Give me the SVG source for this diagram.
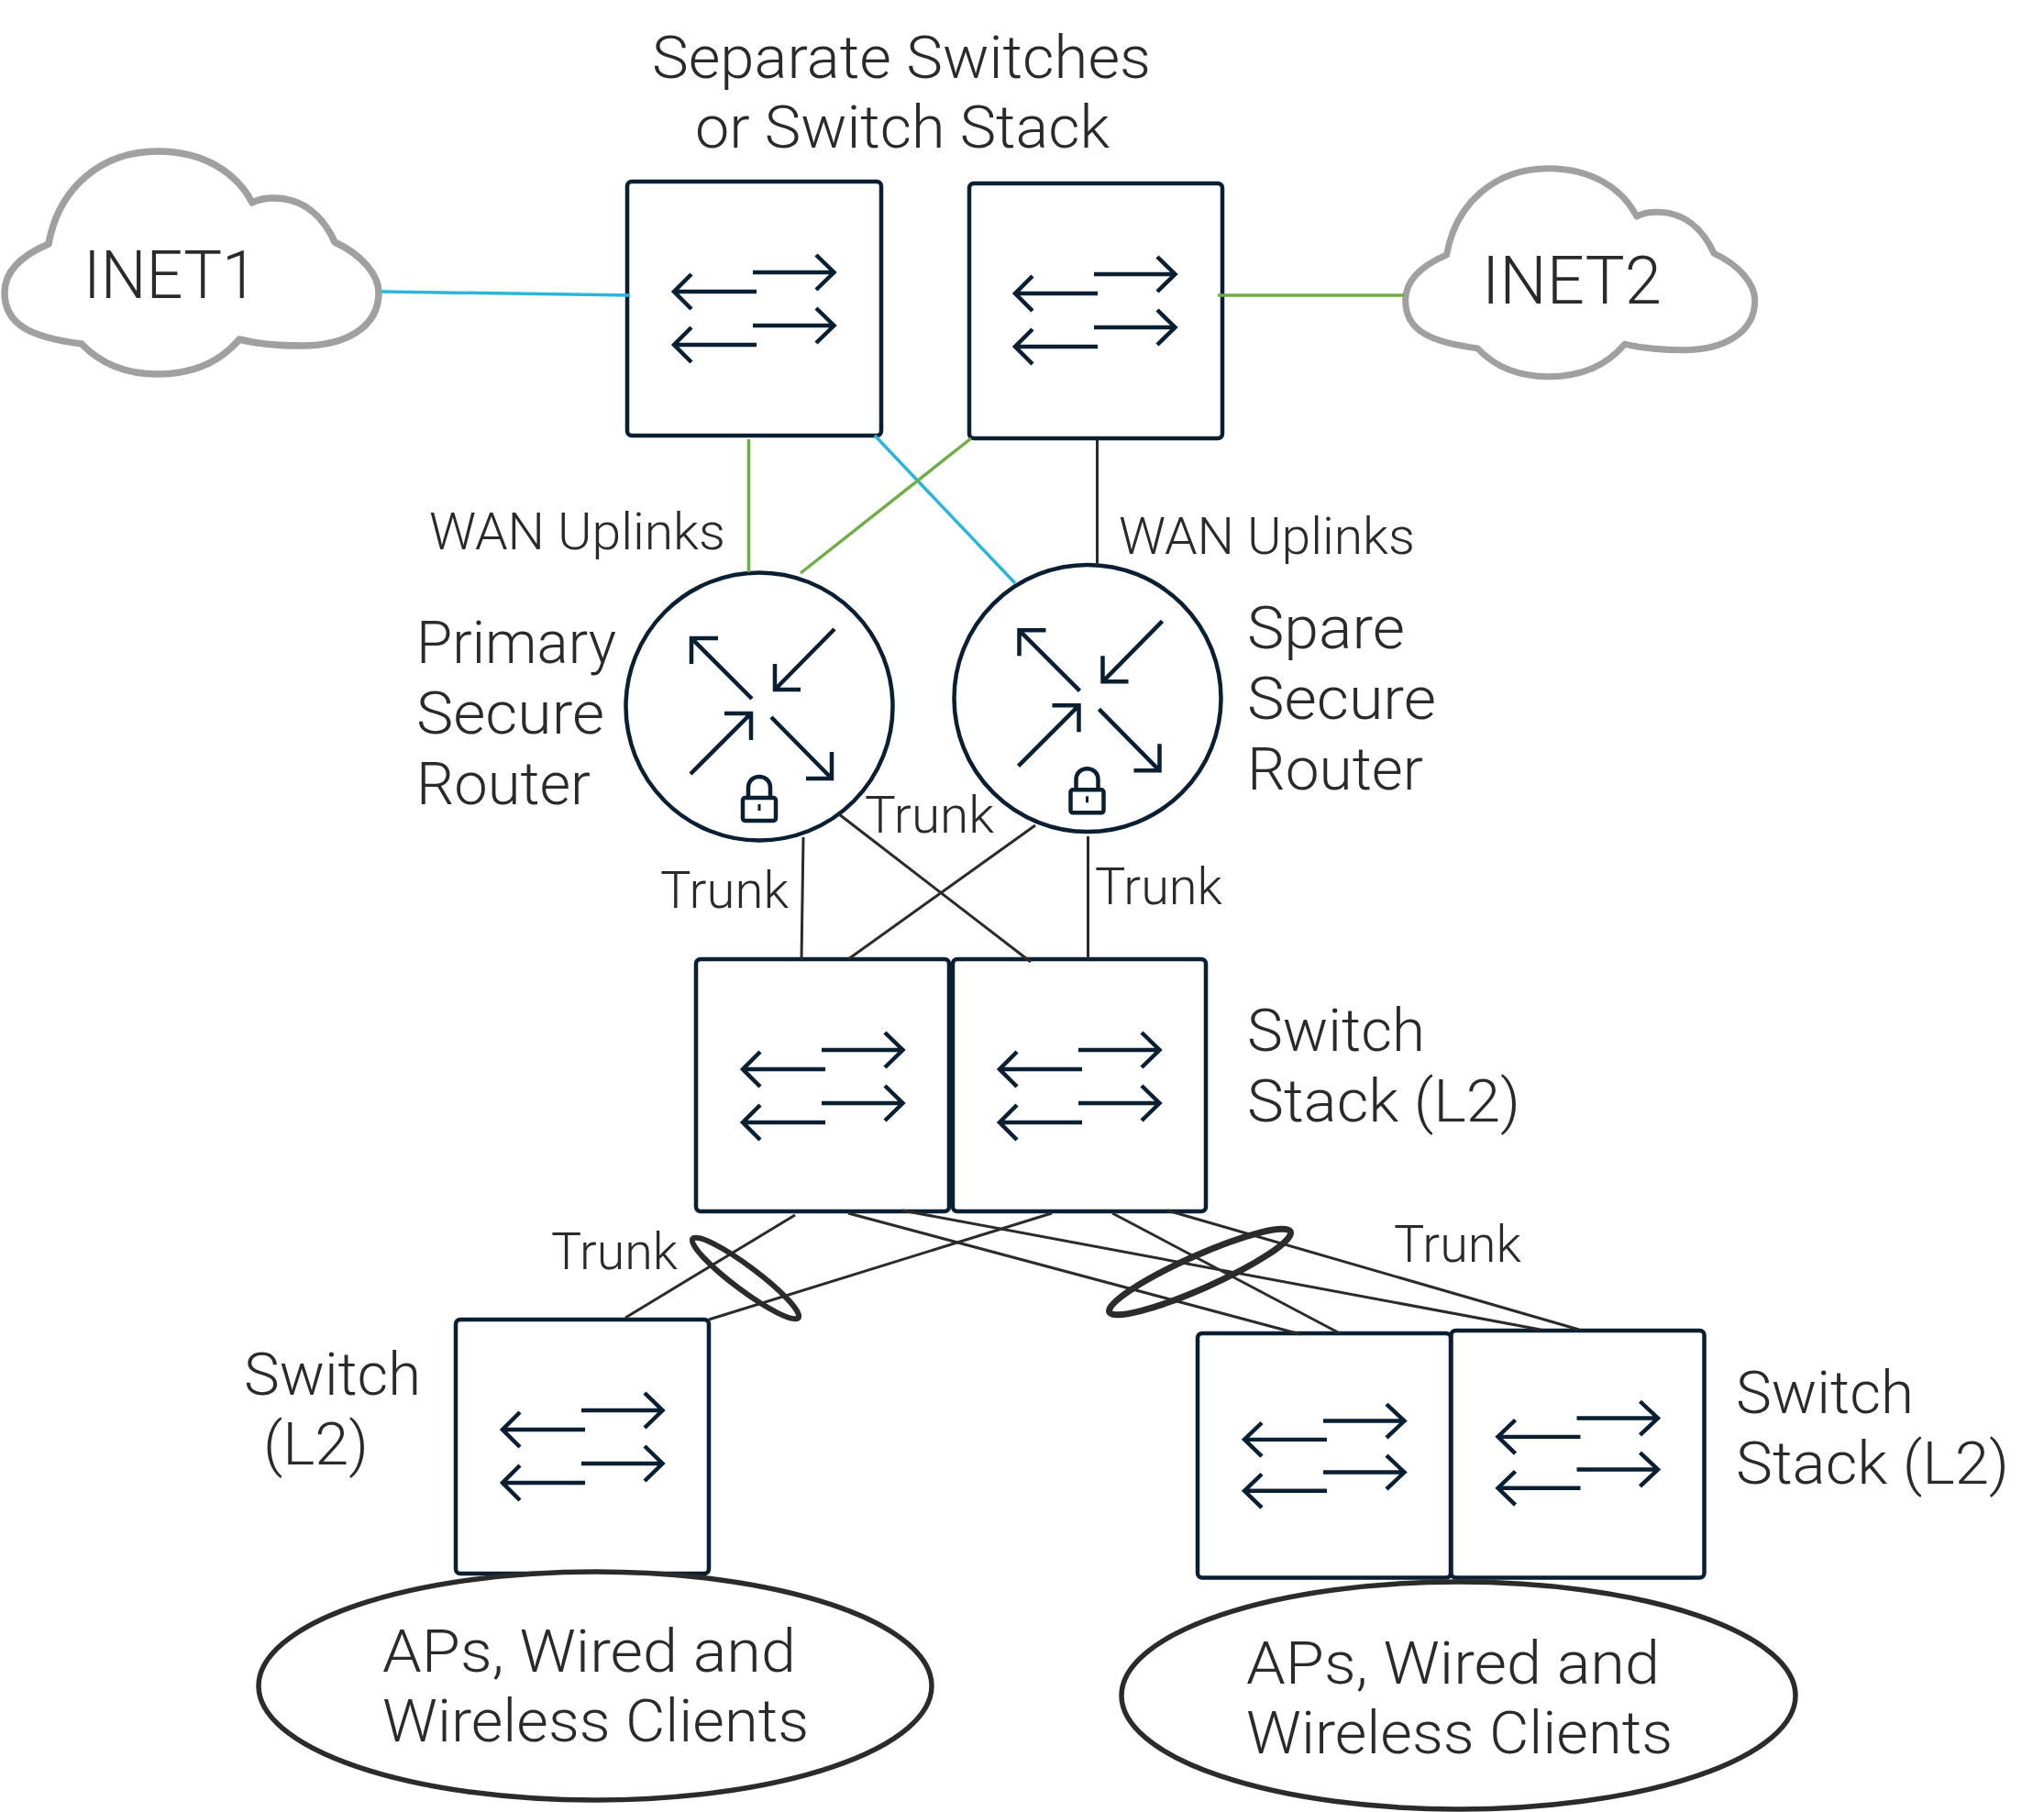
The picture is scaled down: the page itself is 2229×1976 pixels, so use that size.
<svg xmlns="http://www.w3.org/2000/svg" width="2229" height="1976" viewBox="0 0 2229 1976">
<style>
text{font-family:"Roboto","Liberation Sans",sans-serif;font-weight:300;fill:#2a2a2a;font-size:64px}
.s{font-size:56px}
.c{font-size:72px}
.box{fill:#fff;stroke:#0b1f33;stroke-width:4.5}
.ic{fill:none;stroke:#0b1f33;stroke-width:4.5}
.rt{fill:#fff;stroke:#0b1f33;stroke-width:4.5}
.cloud{fill:#fff;stroke:#a0a0a0;stroke-width:7.5;stroke-linejoin:round}
.cl{fill:#fff;stroke:#2b2b2b;stroke-width:5.5}
.lk{fill:none;stroke:#2b2b2b;stroke-width:3}
.blue{stroke:#2bb5d8;stroke-width:3.5;fill:none}
.green{stroke:#70ad47;stroke-width:3.5;fill:none}
.ring{fill:none;stroke:#2b2b2b}
</style>
<defs>
<g id="sw" class="ic">
<path d="M137,99H225.500M206,80L225.500,99L206,118"/>
<path d="M141,120H51M70,101L51,120L70,139"/>
<path d="M137,157H225.500M206,138L225.500,157L206,176"/>
<path d="M141,178H51M70,159L51,178L70,197"/>
</g>
<g id="rtr" class="ic">
<path d="M820,762L754,696M754,724V696H783"/>
<path d="M910,686L845,752M845,724V752H873"/>
<path d="M753,844L819,778M790,778H819V807"/>
<path d="M841,782L907,849M907,820V849H879"/>
<rect x="810" y="870" width="36" height="25" rx="2.5"/>
<path d="M816,870V859C816,843 840,843 840,859V870"/>
<path d="M828,877V884" stroke-width="3"/>
</g>
<path id="cl" d="M53,266C64,205 110,165 172,165C222,165 258,188 275,221C285,216 292,216 298,216C330,216 352,235 365,264C395,278 413,300 413,319C413,358 375,377 330,377C305,377 280,375 261,370C240,395 210,408 172,408C135,408 108,395 89,375C35,368 5,355 5,319C5,295 25,278 53,266Z"/>
</defs>
<rect width="2229" height="1976" fill="#fff"/>
<g id="inet1"><use href="#cl" class="cloud"/><text class="c" x="91" y="325" textLength="190" lengthAdjust="spacingAndGlyphs">INET1</text></g>
<g id="inet2"><use href="#cl" class="cloud" transform="translate(1528,29.6) scale(.934)"/><text class="c" x="1616" y="331" textLength="196" lengthAdjust="spacingAndGlyphs">INET2</text></g>
<g id="wan-switch-1"><rect class="box" x="684" y="198" width="277" height="277" rx="5"/><use href="#sw" transform="translate(684,198)"/></g>
<g id="wan-switch-2"><rect class="box" x="1057" y="200" width="276" height="278" rx="5"/><use href="#sw" transform="translate(1056,200)"/></g>
<g id="primary-router"><ellipse class="rt" cx="828" cy="770.500" rx="145.500" ry="146"/><use href="#rtr"/></g>
<g id="spare-router"><ellipse class="rt" cx="1186" cy="761.500" rx="145.500" ry="145.500"/><use href="#rtr" transform="translate(357.500,-8.700)"/></g>
<g id="stack-a"><rect class="box" x="759" y="1046" width="276" height="275" rx="5"/><use href="#sw" transform="translate(759,1046)"/></g>
<g id="stack-b"><rect class="box" x="1039" y="1046" width="276" height="275" rx="5"/><use href="#sw" transform="translate(1039,1046)"/></g>
<g id="switch-l2"><rect class="box" x="497" y="1439" width="276" height="277" rx="5"/><use href="#sw" transform="translate(497,1439)"/></g>
<g id="stack-c"><rect class="box" x="1306" y="1454" width="276" height="266.500" rx="5"/><use href="#sw" transform="translate(1306,1454) scale(1,.965)"/></g>
<g id="stack-d"><rect class="box" x="1582.500" y="1451" width="276" height="269.500" rx="5"/><use href="#sw" transform="translate(1582.500,1451) scale(1,.965)"/></g>
<g id="clients-1"><ellipse class="cl" cx="649" cy="1838.500" rx="367" ry="124.500"/><text x="417" y="1823" textLength="451" lengthAdjust="spacingAndGlyphs">APs, Wired and</text><text x="417" y="1899" textLength="465" lengthAdjust="spacingAndGlyphs">Wireless Clients</text></g>
<g id="clients-2"><ellipse class="cl" cx="1590.500" cy="1849" rx="367.500" ry="124"/><text x="1359" y="1835.500" textLength="451" lengthAdjust="spacingAndGlyphs">APs, Wired and</text><text x="1359" y="1912" textLength="465" lengthAdjust="spacingAndGlyphs">Wireless Clients</text></g>
<g id="connectors">
<path class="blue" d="M416,318L687,322M954,475L1107,636"/>
<path class="green" d="M1328,322H1531M816.500,479V624M1059,478L873,625"/>
<g class="lk">
<path d="M1196.500,479V616"/>
<path d="M876,913L874,1047M915,888L1124,1049M1129,900L925,1046M1186.500,912V1046"/>
<path d="M867,1325L682,1437M1147,1323L773,1439"/>
<path d="M925,1323L1418,1455M984,1320L1680,1450M1213,1323L1461,1454M1273,1320L1722,1450"/>
</g>
</g>
<g id="rings">
<ellipse class="ring" stroke-width="6" cx="813" cy="1394" rx="72" ry="13" transform="rotate(36.800 813 1394)"/>
<ellipse class="ring" stroke-width="7" cx="1308.500" cy="1387" rx="108" ry="18" transform="rotate(-23.900 1308.500 1387)"/>
</g>
<g id="labels">
<text x="711" y="85" textLength="544" lengthAdjust="spacingAndGlyphs">Separate Switches</text>
<text x="758" y="161" textLength="452" lengthAdjust="spacingAndGlyphs">or Switch Stack</text>
<text class="s" x="468" y="598.500" textLength="323" lengthAdjust="spacingAndGlyphs">WAN Uplinks</text>
<text class="s" x="1220" y="604" textLength="323" lengthAdjust="spacingAndGlyphs">WAN Uplinks</text>
<text x="454" y="723" textLength="218" lengthAdjust="spacingAndGlyphs">Primary</text>
<text x="454" y="799.500" textLength="205" lengthAdjust="spacingAndGlyphs">Secure</text>
<text x="454" y="876.500" textLength="190" lengthAdjust="spacingAndGlyphs">Router</text>
<text x="1360" y="707" textLength="172" lengthAdjust="spacingAndGlyphs">Spare</text>
<text x="1360" y="784" textLength="206" lengthAdjust="spacingAndGlyphs">Secure</text>
<text x="1360" y="860.500" textLength="192" lengthAdjust="spacingAndGlyphs">Router</text>
<text class="s" x="943" y="907.500" textLength="141" lengthAdjust="spacingAndGlyphs">Trunk</text>
<text class="s" x="720" y="990" textLength="140" lengthAdjust="spacingAndGlyphs">Trunk</text>
<text class="s" x="1194" y="985.500" textLength="139" lengthAdjust="spacingAndGlyphs">Trunk</text>
<text x="1360" y="1146" textLength="194" lengthAdjust="spacingAndGlyphs">Switch</text>
<text x="1360" y="1223" textLength="298" lengthAdjust="spacingAndGlyphs">Stack (L2)</text>
<text class="s" x="601" y="1383.500" textLength="138" lengthAdjust="spacingAndGlyphs">Trunk</text>
<text class="s" x="1520" y="1375.500" textLength="139" lengthAdjust="spacingAndGlyphs">Trunk</text>
<text x="266" y="1520.500" textLength="193" lengthAdjust="spacingAndGlyphs">Switch</text>
<text x="287" y="1597" textLength="115" lengthAdjust="spacingAndGlyphs">(L2)</text>
<text x="1893" y="1540.500" textLength="194" lengthAdjust="spacingAndGlyphs">Switch</text>
<text x="1893" y="1617.500" textLength="298" lengthAdjust="spacingAndGlyphs">Stack (L2)</text>
</g>
</svg>
